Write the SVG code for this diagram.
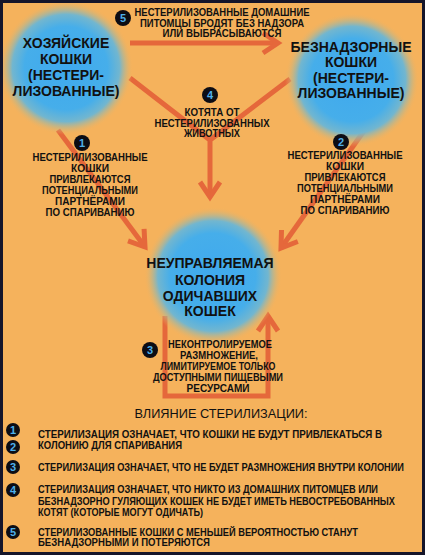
<svg xmlns="http://www.w3.org/2000/svg" width="425" height="555" viewBox="0 0 425 555">
<style>
.bg{fill:#f5b25c}
.frame{fill:none;stroke:#15152a;stroke-width:3}
.ln{fill:none;stroke:#e5683b;stroke-width:5;stroke-linecap:butt;stroke-linejoin:miter}
.big{font-family:"Liberation Sans",Arial,sans-serif;font-weight:bold;font-size:14px;fill:#111;text-anchor:middle}
.sm{font-family:"Liberation Sans",Arial,sans-serif;font-weight:bold;font-size:10px;fill:#111;text-anchor:middle}
.lt{font-family:"Liberation Sans",Arial,sans-serif;font-weight:bold;font-size:10px;fill:#111}
.hd{font-family:"Liberation Sans",Arial,sans-serif;font-size:13px;fill:#111;text-anchor:middle}
.bd{fill:#0d0d14}
.bn{font-family:"Liberation Sans",Arial,sans-serif;font-weight:bold;font-size:11px;fill:#4fb0ea;text-anchor:middle}
</style>
<defs>
<radialGradient id="blue" cx="0.5" cy="0.5" r="0.5">
<stop offset="0" stop-color="#3fa9ee"/>
<stop offset="0.62" stop-color="#46aeea"/>
<stop offset="0.8" stop-color="#72b6cf"/>
<stop offset="0.9" stop-color="#b9b68e" stop-opacity="0.6"/>
<stop offset="1" stop-color="#f5b25c" stop-opacity="0"/>
</radialGradient>
<marker id="ah" viewBox="-22 -14 30 28" refX="0" refY="0" markerWidth="30" markerHeight="28" markerUnits="userSpaceOnUse" orient="auto">
<path d="M-15,-10 L0,0 L-15,10" fill="none" stroke="#e5683b" stroke-width="5"/>
</marker>
</defs>
<rect class="bg" x="0" y="0" width="425" height="555"/>

<g id="connectors">
<path id="c5" class="ln" d="M130,43 H278" marker-end="url(#ah)"/>
<path id="c4" class="ln" d="M130,78 L210,140 L290,79 M210,140 V197" marker-end="url(#ah)"/>
<path id="c1" class="ln" d="M58,130 L145,247" marker-end="url(#ah)"/>
<path id="c2" class="ln" d="M366,128 L281,248" marker-end="url(#ah)"/>
<path id="c3" class="ln" d="M165,316 V396 H268 V316" marker-end="url(#ah)"/>
</g>

<g id="owned">
<circle cx="66" cy="68" r="67" fill="url(#blue)"/>
<text class="big" x="66" y="48">ХОЗЯЙСКИЕ</text>
<text class="big" x="66" y="64">КОШКИ</text>
<text class="big" x="66" y="80">(НЕСТЕРИ-</text>
<text class="big" x="66" y="96">ЛИЗОВАННЫЕ)</text>
</g>

<g id="stray">
<circle cx="352" cy="80" r="67" fill="url(#blue)"/>
<text class="big" x="351" y="52">БЕЗНАДЗОРНЫЕ</text>
<text class="big" x="351" y="67">КОШКИ</text>
<text class="big" x="351" y="83">(НЕСТЕРИ-</text>
<text class="big" x="351" y="98">ЛИЗОВАННЫЕ)</text>
</g>

<g id="colony">
<circle cx="213" cy="276" r="69" fill="url(#blue)"/>
<text class="big" x="210" y="268">НЕУПРАВЛЯЕМАЯ</text>
<text class="big" x="210" y="285">КОЛОНИЯ</text>
<text class="big" x="210" y="301">ОДИЧАВШИХ</text>
<text class="big" x="210" y="316">КОШЕК</text>
</g>

<g id="label5">
<circle class="bd" cx="123" cy="18" r="8"/>
<text class="bn" x="123" y="22">5</text>
<text class="sm" x="222" y="16" textLength="175" lengthAdjust="spacingAndGlyphs">НЕСТЕРИЛИЗОВАННЫЕ ДОМАШНИЕ</text>
<text class="sm" x="222" y="27" textLength="164" lengthAdjust="spacingAndGlyphs">ПИТОМЦЫ БРОДЯТ БЕЗ НАДЗОРА</text>
<text class="sm" x="222" y="37" textLength="119" lengthAdjust="spacingAndGlyphs">ИЛИ ВЫБРАСЫВАЮТСЯ</text>
</g>

<g id="label4">
<circle class="bd" cx="210" cy="95" r="8"/>
<text class="bn" x="210" y="99">4</text>
<text class="sm" x="212" y="116" textLength="55" lengthAdjust="spacingAndGlyphs">КОТЯТА ОТ</text>
<text class="sm" x="212" y="127" textLength="115" lengthAdjust="spacingAndGlyphs">НЕСТЕРИЛИЗОВАННЫХ</text>
<text class="sm" x="212" y="137" textLength="56" lengthAdjust="spacingAndGlyphs">ЖИВОТНЫХ</text>
</g>

<g id="label1">
<circle class="bd" cx="82" cy="143" r="8"/>
<text class="bn" x="82" y="147">1</text>
<text class="sm" x="90" y="161" textLength="115" lengthAdjust="spacingAndGlyphs">НЕСТЕРИЛИЗОВАННЫЕ</text>
<text class="sm" x="90" y="172" textLength="38" lengthAdjust="spacingAndGlyphs">КОШКИ</text>
<text class="sm" x="90" y="183" textLength="81" lengthAdjust="spacingAndGlyphs">ПРИВЛЕКАЮТСЯ</text>
<text class="sm" x="90" y="194" textLength="96" lengthAdjust="spacingAndGlyphs">ПОТЕНЦИАЛЬНЫМИ</text>
<text class="sm" x="90" y="205" textLength="70" lengthAdjust="spacingAndGlyphs">ПАРТНЁРАМИ</text>
<text class="sm" x="90" y="216" textLength="89" lengthAdjust="spacingAndGlyphs">ПО СПАРИВАНИЮ</text>
</g>

<g id="label2">
<circle class="bd" cx="341" cy="142" r="8"/>
<text class="bn" x="341" y="146">2</text>
<text class="sm" x="345" y="159" textLength="115" lengthAdjust="spacingAndGlyphs">НЕСТЕРИЛИЗОВАННЫЕ</text>
<text class="sm" x="345" y="170" textLength="38" lengthAdjust="spacingAndGlyphs">КОШКИ</text>
<text class="sm" x="345" y="181" textLength="81" lengthAdjust="spacingAndGlyphs">ПРИВЛЕКАЮТСЯ</text>
<text class="sm" x="345" y="192" textLength="96" lengthAdjust="spacingAndGlyphs">ПОТЕНЦИАЛЬНЫМИ</text>
<text class="sm" x="345" y="203" textLength="70" lengthAdjust="spacingAndGlyphs">ПАРТНЁРАМИ</text>
<text class="sm" x="345" y="214" textLength="89" lengthAdjust="spacingAndGlyphs">ПО СПАРИВАНИЮ</text>
</g>

<g id="label3">
<circle class="bd" cx="150" cy="350" r="8"/>
<text class="bn" x="150" y="354">3</text>
<text class="sm" x="220" y="348" textLength="104" lengthAdjust="spacingAndGlyphs">НЕКОНТРОЛИРУЕМОЕ</text>
<text class="sm" x="219" y="359" textLength="78" lengthAdjust="spacingAndGlyphs">РАЗМНОЖЕНИЕ,</text>
<text class="sm" x="218" y="370" textLength="115" lengthAdjust="spacingAndGlyphs">ЛИМИТИРУЕМОЕ ТОЛЬКО</text>
<text class="sm" x="218" y="381" textLength="130" lengthAdjust="spacingAndGlyphs">ДОСТУПНЫМИ ПИЩЕВЫМИ</text>
<text class="sm" x="218" y="392" textLength="63" lengthAdjust="spacingAndGlyphs">РЕСУРСАМИ</text>
</g>

<g id="legend">
<text class="hd" x="221" y="418" textLength="173" lengthAdjust="spacingAndGlyphs">ВЛИЯНИЕ СТЕРИЛИЗАЦИИ:</text>
<circle class="bd" cx="13" cy="430" r="7"/>
<text class="bn" x="13" y="434">1</text>
<circle class="bd" cx="13" cy="447" r="7"/>
<text class="bn" x="13" y="451">2</text>
<text class="lt" x="38" y="438" textLength="344" lengthAdjust="spacingAndGlyphs">СТЕРИЛИЗАЦИЯ ОЗНАЧАЕТ, ЧТО КОШКИ НЕ  БУДУТ ПРИВЛЕКАТЬСЯ В</text>
<text class="lt" x="38" y="449" textLength="144" lengthAdjust="spacingAndGlyphs">КОЛОНИЮ ДЛЯ СПАРИВАНИЯ</text>
<circle class="bd" cx="13" cy="467" r="7"/>
<text class="bn" x="13" y="471">3</text>
<text class="lt" x="38" y="471" font-size="8.5" textLength="366" lengthAdjust="spacingAndGlyphs">СТЕРИЛИЗАЦИЯ ОЗНАЧАЕТ, ЧТО НЕ БУДЕТ РАЗМНОЖЕНИЯ ВНУТРИ КОЛОНИИ</text>
<circle class="bd" cx="13" cy="490" r="7"/>
<text class="bn" x="13" y="494">4</text>
<text class="lt" x="38" y="493" textLength="340" lengthAdjust="spacingAndGlyphs">СТЕРИЛИЗАЦИЯ ОЗНАЧАЕТ, ЧТО НИКТО ИЗ ДОМАШНИХ ПИТОМЦЕВ ИЛИ</text>
<text class="lt" x="38" y="505" textLength="357" lengthAdjust="spacingAndGlyphs">БЕЗНАДЗОРНО ГУЛЯЮЩИХ КОШЕК НЕ БУДЕТ ИМЕТЬ НЕВОСТРЕБОВАННЫХ</text>
<text class="lt" x="38" y="516" textLength="165" lengthAdjust="spacingAndGlyphs">КОТЯТ (КОТОРЫЕ МОГУТ ОДИЧАТЬ)</text>
<circle class="bd" cx="13" cy="532" r="7"/>
<text class="bn" x="13" y="536">5</text>
<text class="lt" x="38" y="536" textLength="320" lengthAdjust="spacingAndGlyphs">СТЕРИЛИЗОВАННЫЕ КОШКИ С МЕНЬШЕЙ ВЕРОЯТНОСТЬЮ СТАНУТ</text>
<text class="lt" x="38" y="546" textLength="172" lengthAdjust="spacingAndGlyphs">БЕЗНАДЗОРНЫМИ И ПОТЕРЯЮТСЯ</text>
</g>

<rect class="frame" x="1.5" y="1.5" width="422" height="552"/>
</svg>
